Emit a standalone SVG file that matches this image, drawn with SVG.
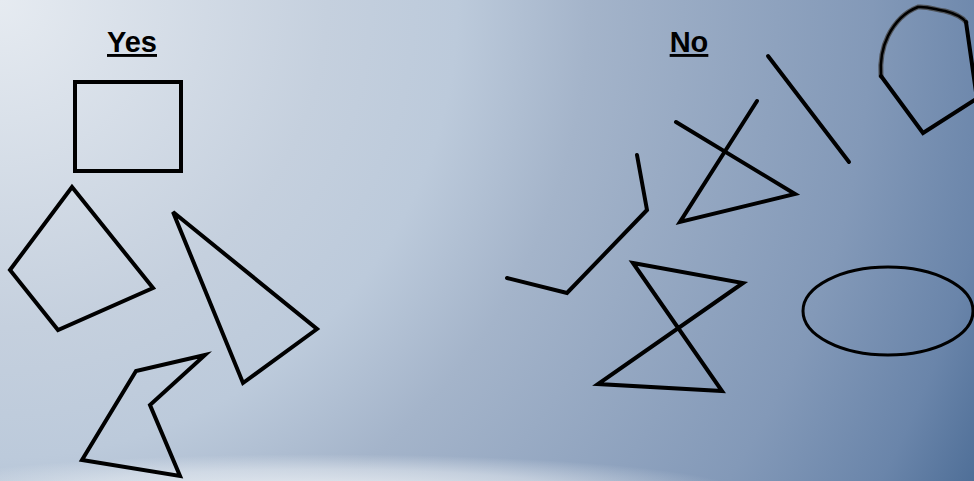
<svg xmlns="http://www.w3.org/2000/svg" width="974" height="481" viewBox="0 0 974 481">
<defs>
<radialGradient id="bg" cx="0" cy="0" r="1090" gradientUnits="userSpaceOnUse">
<stop offset="0" stop-color="#e6ebf1"/>
<stop offset="0.3" stop-color="#c5d0de"/>
<stop offset="0.42" stop-color="#bccadb"/>
<stop offset="0.54" stop-color="#a4b4ca"/>
<stop offset="0.8" stop-color="#8399b8"/>
<stop offset="0.92" stop-color="#6a85aa"/>
<stop offset="1" stop-color="#4e6e97"/>
</radialGradient>
<radialGradient id="glow" cx="320" cy="492" r="420" gradientUnits="userSpaceOnUse" gradientTransform="translate(0 492) scale(1 0.09) translate(0 -492)">
<stop offset="0" stop-color="#eef2f6" stop-opacity="0.9"/>
<stop offset="0.6" stop-color="#eef2f6" stop-opacity="0.5"/>
<stop offset="1" stop-color="#eef2f6" stop-opacity="0"/>
</radialGradient>
</defs>
<style>
.s{fill:none;stroke:#000;stroke-width:4;stroke-linejoin:miter;stroke-linecap:round}
.t{font-family:"Liberation Sans",Arial,sans-serif;font-weight:bold;font-size:29px;fill:#000;text-decoration:underline}
</style>
<rect width="974" height="481" fill="url(#bg)"/>
<rect x="0" y="440" width="974" height="41" fill="url(#glow)"/>
<text class="t" x="132" y="52" text-anchor="middle">Yes</text>
<text class="t" x="689" y="52" text-anchor="middle">No</text>
<g id="yes-square"><rect class="s" x="75" y="82" width="106" height="89"/></g>
<g id="yes-quad"><polygon class="s" points="72,187 153,288 58,330 10,270"/></g>
<g id="yes-triangle"><polygon class="s" points="173,212 317,329 243,383"/></g>
<g id="yes-zigzag"><polygon class="s" points="205,355 136,371 82,460 180,476 150,405"/></g>
<g id="no-open-chain"><polyline class="s" points="637,155 647,210 567,293 507,278"/></g>
<g id="no-bowtie"><polygon class="s" points="633,263 743,283 598,384 722,391"/></g>
<g id="no-crossed"><polyline class="s" points="676,122 795,194 680,222 757,101"/></g>
<g id="no-line"><line class="s" x1="768" y1="56" x2="849" y2="162"/></g>
<g id="no-ellipse"><ellipse cx="888" cy="311" rx="85" ry="44" fill="none" stroke="#000" stroke-width="3"/></g>
<g id="no-freehand">
<path d="M881,76 C880,62 882,48 888,36 C895,22 905,12 918,7 C928,6 936,10 945,11 C953,13 961,16 966,22" fill="none" stroke="#444" stroke-width="5" stroke-linecap="round" opacity="0.8"/>
<path d="M881,76 C880,62 882,48 888,36 C895,22 905,12 918,7 C928,6 936,10 945,11 C953,13 961,16 966,22" fill="none" stroke="#000" stroke-width="2.5" stroke-linecap="round"/>
<polyline class="s" points="966,22 976,92"/>
<polyline class="s" points="881,76 923,133 976,99"/>
</g>
</svg>
